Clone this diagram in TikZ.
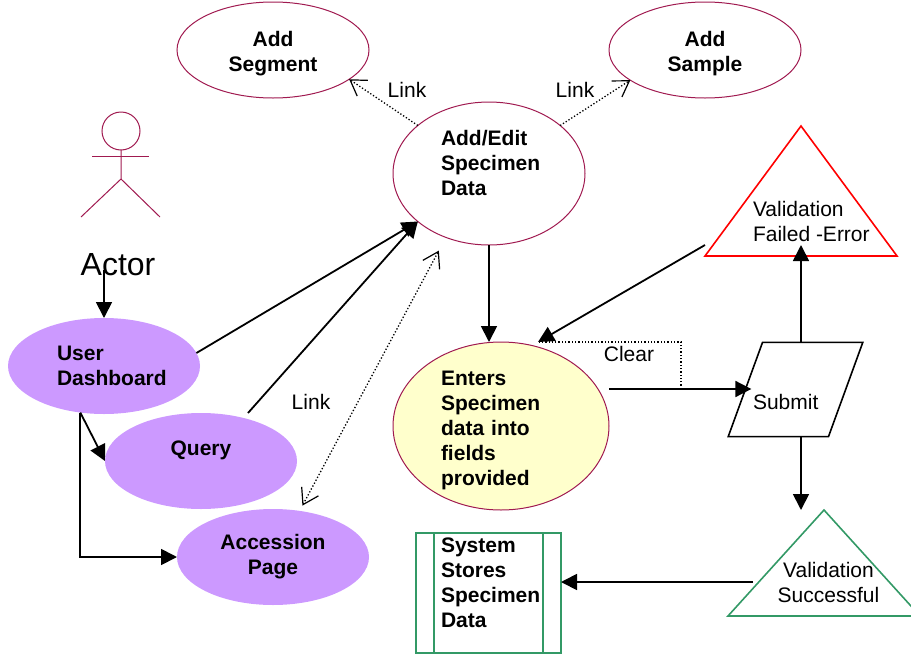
\documentclass[tikz,border=0pt]{standalone}
\usepackage{fontspec}
\setmainfont{Liberation Sans}
\usetikzlibrary{arrows.meta, shapes.geometric}

\definecolor{usecaseedge}{HTML}{A01A50}
\definecolor{dashpurple}{HTML}{CC99FF}
\definecolor{entryyellow}{HTML}{FFFFCC}
\definecolor{storegreen}{HTML}{339966}

\tikzset{
  usecase/.style = {ellipse, minimum width=192pt, minimum height=96pt, inner sep=-20pt, outer sep=0pt, line width=1pt,
    font=\fontsize{21}{25}\selectfont\bfseries},
  plaintext/.style = {inner sep=0pt, outer sep=0pt, font=\fontsize{21}{25}\selectfont},
  flow/.style = {-{Triangle[length=16pt,width=16pt]}, line width=1.8pt},
  linkline/.style = {{Straight Barb[length=15pt,width=19pt,line width=1.2pt]}-{Straight Barb[length=15pt,width=19pt,line width=1.2pt]}, dotted, line width=1.3pt},
  linkto/.style = {-{Straight Barb[length=15pt,width=19pt,line width=1.2pt]}, dotted, line width=1.3pt},
  triangleshape/.style = {isosceles triangle, isosceles triangle stretches, shape border rotate=90,
    inner sep=0pt, outer sep=0pt, line width=1.6pt, anchor=apex}
}

\begin{document}
\begin{tikzpicture}[x=1pt, y=-1pt]
  \useasboundingbox (0,0) rectangle (911,654);
  \clip (0,0) rectangle (911,654);

  % actor
  \node (head) [circle, draw=usecaseedge, line width=1pt, minimum size=38pt, inner sep=0pt, outer sep=0pt] at (121,131) {};
  \coordinate (hip) at (121,179);
  \coordinate (handl) at (92,156);
  \coordinate (handr) at (149,156);
  \coordinate (footl) at (81,217);
  \coordinate (footr) at (160,217);
  \draw [usecaseedge, line width=1pt] (head.south) -- (hip) -- (footl);
  \draw [usecaseedge, line width=1pt] (hip) -- (footr);
  \draw [usecaseedge, line width=1pt] (handl) -- (handr);
  \node (actor) [plaintext, font=\fontsize{32}{36}\selectfont] at (118,265) {Actor};

  % use cases
  \node (segment) [usecase, draw=usecaseedge, align=center] at (273,50) {\mbox{}\\[-2pt]Add\\Segment};
  \node (sample) [usecase, draw=usecaseedge, align=center] at (705,50) {\mbox{}\\[-2pt]Add\\Sample};
  \node (addedit) [usecase, draw=usecaseedge, minimum height=143pt, text width=96pt, align=left] at (489,173.5)
    {Add/Edit\\Specimen\\Data\\[-3pt]\mbox{}};
  \node (enters) [usecase, draw=usecaseedge, fill=entryyellow, minimum width=216pt, minimum height=168pt, text width=120pt, align=left] at (501,426)
    {\mbox{}\\[-2pt]Enters\\Specimen\\data into\\fields\\provided};
  \node (user) [usecase, fill=dashpurple, text width=94pt, align=left] at (104,366) {User\\Dashboard};
  \node (query) [usecase, fill=dashpurple, align=center] at (201,461) {Query\\\mbox{}};
  \node (accession) [usecase, fill=dashpurple, align=center] at (273,557) {Accession\\Page};

  % right hand side
  \node (submit) [trapezium, trapezium left angle=70, trapezium right angle=110, draw, line width=1.6pt,
    inner xsep=-9.5pt, inner ysep=26.5pt, outer sep=0pt, text width=85pt, align=left,
    font=\fontsize{21}{25}\selectfont] at (795.5,389.5) {\mbox{}\\[16pt]Submit};
  \node (failed) [triangleshape, draw=red, minimum width=192pt, minimum height=130pt] at (801,126) {};
  \node (failedtext) [plaintext, align=left, anchor=west] at (753,221.5) {Validation\\Failed -Error};
  \node (success) [triangleshape, draw=storegreen, minimum width=192pt, minimum height=106pt] at (824,510) {};
  \node (successtext) [plaintext, align=center] at (828.5,582.5) {Validation\\Successful};
  \node (store) [rectangle, draw=storegreen, line width=1.2pt, minimum width=145pt, minimum height=120pt, inner sep=-5pt, outer sep=0pt,
    text width=95pt, align=left, font=\fontsize{21}{25}\selectfont\bfseries] at (488.5,593)
    {System\\Stores\\Specimen\\Data\\[-5pt]\mbox{}};
  \draw [storegreen, line width=1.2pt] ([xshift=18pt]store.north west) -- ([xshift=18pt]store.south west);
  \draw [storegreen, line width=1.2pt] ([xshift=-18pt]store.north east) -- ([xshift=-18pt]store.south east);

  % link labels
  \node (linkseg) [plaintext] at (407,90) {Link};
  \node (linksam) [plaintext] at (575,90) {Link};
  \node (linkacc) [plaintext] at (311,402) {Link};
  \node (clear) [plaintext] at (629,354) {Clear};

  \coordinate (clearend) at (538,342);
  \coordinate (cleartap) at (681,389);
  \coordinate (successout) at (753,582);

  % connectors
  \draw [flow] (actor.south -| user.north) [shorten <=-6pt] -- (user.north);
  \draw [flow] (user.8) -- (addedit.214);
  \draw [flow] ([xshift=47pt]query.north) -- (addedit.214);
  \draw [flow] (user.243) -- (query.west);
  \draw [flow] (user.243) |- (accession.west);
  \draw [flow] (addedit.south) -- (addedit.south |- enters.north);
  \draw [flow] (enters.east |- cleartap) -- ([xshift=6pt]cleartap -| submit.west);
  \draw [flow] (failed.apex |- submit.north) [shorten >=-11pt] -- (failed.apex |- failed.left corner);
  \draw [flow] (failed.apex |- submit.south) -- (failed.apex |- success.apex);
  \draw [flow] ([yshift=11pt]failed.left corner) -- (clearend);
  \draw [flow] (successout) -- (successout -| store.east);

  \draw [linkto] (addedit.146) -- (segment.-21);
  \draw [linkto] (addedit.34) -- (sample.202);
  \draw [linkline, shorten >=15pt, shorten <=6pt] (accession.60) -- (addedit.236);
  \draw [dotted, line width=1.3pt] (cleartap) |- (clearend);
\end{tikzpicture}
\end{document}
